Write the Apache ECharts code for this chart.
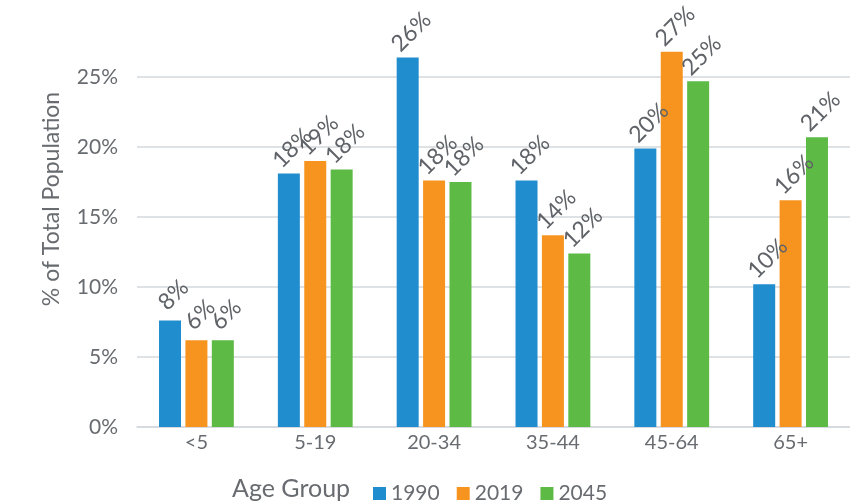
<!DOCTYPE html>
<html>
<head>
<meta charset="utf-8">
<script src="https://cdn.jsdelivr.net/npm/echarts@6/dist/echarts.min.js"></script>
<style>
  html, body { margin: 0; padding: 0; background: #fff; }
  #chart { width: 850px; height: 504px; }
</style>
</head>
<body>
<div id="chart"></div>
<script>
  var categories = ['<5', '5-19', '20-34', '35-44', '45-64', '65+']
  var years = ['1990', '2019', '2045']
  var values1990 = [7.6, 18.1, 26.4, 17.6, 19.9, 10.2]
  var values2019 = [6.2, 19.0, 17.6, 13.7, 26.8, 16.2]
  var values2045 = [6.2, 18.4, 17.5, 12.4, 24.7, 20.7]
  var colors = ['#208DCE', '#F7941F', '#5DBA45']

  var textColor = '#686C70'
  var fontFamily = 'Lato, "Noto Sans", sans-serif'

  var myChart = echarts.init(document.getElementById('chart'))

  function makeSeries(name, data, color) {
    return {
      name: name,
      type: 'bar',
      data: data,
      barWidth: 22,
      barGap: '20%',
      itemStyle: { color: color },
      label: {
        show: true,
        position: 'top',
        rotate: 45,
        align: 'center',
        verticalAlign: 'middle',
        distance: 22,
        offset: [5, 0],
        color: '#5F6368',
        fontSize: 23,
        fontFamily: fontFamily,
        formatter: function (p) {
          return Math.round(p.value) + '%'
        }
      }
    }
  }

  var option = {
    animation: false,
    textStyle: { fontFamily: fontFamily },
    grid: {
      left: 137,
      right: 0,
      top: 7,
      bottom: 77
    },
    legend: {
      left: 368,
      top: 478,
      itemWidth: 13,
      itemHeight: 13,
      itemGap: 17,
      icon: 'rect',
      textStyle: { color: textColor, fontSize: 21, fontFamily: fontFamily },
      data: years
    },
    graphic: [
      {
        type: 'text',
        left: 232,
        top: 476,
        style: { text: 'Age Group', fill: textColor, fontSize: 25, fontFamily: fontFamily }
      },
      {
        type: 'text',
        x: 52,
        y: 199,
        rotation: Math.PI / 2,
        style: {
          text: '% of Total Population',
          fill: textColor,
          fontSize: 23,
          fontFamily: fontFamily,
          align: 'center',
          verticalAlign: 'middle'
        }
      }
    ],
    xAxis: {
      type: 'category',
      data: categories,
      axisLine: { lineStyle: { color: '#D5D8DC', width: 1.5 } },
      axisTick: { show: false },
      axisLabel: { color: textColor, fontSize: 20, margin: 6, fontFamily: fontFamily }
    },
    yAxis: {
      type: 'value',
      min: 0,
      max: 30,
      interval: 5,
      axisLine: { show: false },
      axisTick: { show: false },
      axisLabel: {
        color: textColor,
        fontSize: 21,
        margin: 19,
        showMaxLabel: false,
        fontFamily: fontFamily,
        formatter: '{value}%'
      },
      splitLine: { showMaxLine: false, lineStyle: { color: '#D5D8DC', width: 1.5 } }
    },
    series: [
      makeSeries(years[0], values1990, colors[0]),
      makeSeries(years[1], values2019, colors[1]),
      makeSeries(years[2], values2045, colors[2])
    ]
  }
  option && myChart.setOption(option)
  window.addEventListener('resize', myChart.resize)
</script>
</body>
</html>
